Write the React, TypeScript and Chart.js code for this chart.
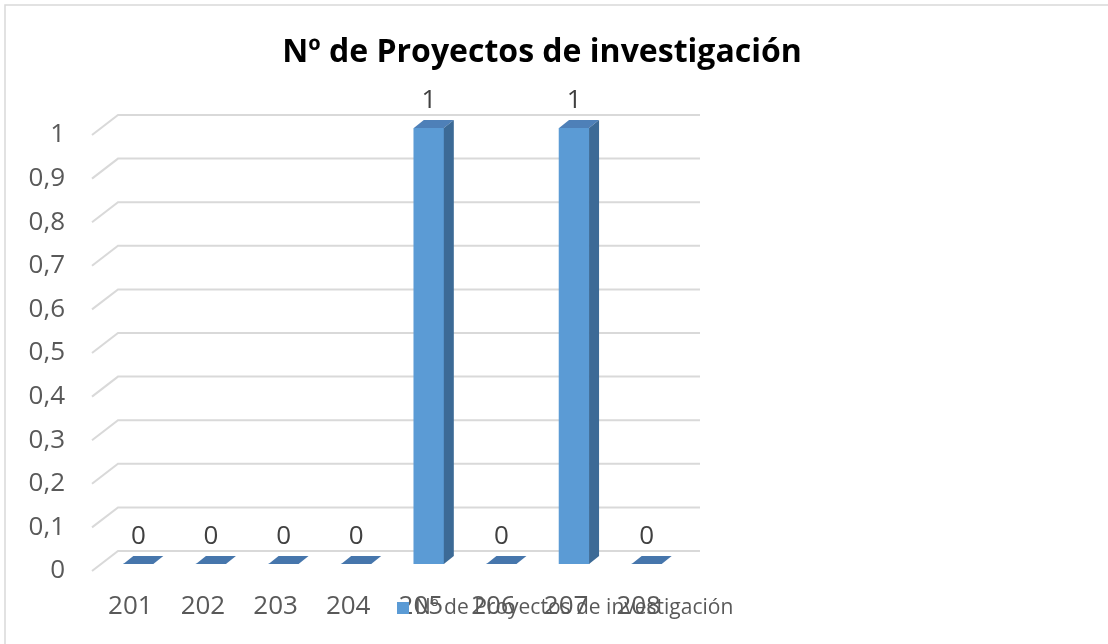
import React, { useEffect, useRef } from 'react';
import { Chart, registerables } from 'chart.js';

Chart.register(...registerables);

const chartTitle = 'Nº de Proyectos de investigación';
const seriesName = 'Nº de Proyectos de investigación';
const categories = ['201', '202', '203', '204', '205', '206', '207', '208'];
const seriesValues = [0, 0, 0, 0, 1, 0, 1, 0];
const yMin = 0;
const yMax = 1;
const yStep = 0.1;

const FONT = '"Open Sans", "Liberation Sans", sans-serif';
const FRONT = '#5B9BD5';
const TOP = '#4E80B8';
const SIDE = '#3C6A96';
const FLAT = '#4676AC';
const GRID = '#d9d9d9';
const DX = 10;
const DY = 8;

const fmt = (v: number) => String(Number(v.toFixed(1))).replace('.', ',');

const decoPlugin = {
  id: 'deco',
  beforeDraw(chart: any) {
    const ctx = chart.ctx as CanvasRenderingContext2D;
    const { left, right } = chart.chartArea;
    const ys = chart.scales.y;
    ctx.save();
    ctx.fillStyle = '#ffffff';
    ctx.fillRect(0, 0, chart.width, chart.height);
    ctx.strokeStyle = GRID;
    ctx.lineWidth = 1.5;
    ctx.strokeRect(5, 5, chart.width + 100, chart.height + 100);
    // 3D gridlines (side wall + back wall)
    ctx.lineWidth = 2;
    ctx.strokeStyle = GRID;
    ys.ticks.forEach((t: any) => {
      const y = ys.getPixelForValue(t.value);
      ctx.beginPath();
      ctx.moveTo(left - 10, y + 7);
      ctx.lineTo(left + 16, y - 13);
      ctx.lineTo(right + 17, y - 13);
      ctx.stroke();
    });
    // title
    ctx.fillStyle = '#000000';
    ctx.font = `bold 32px ${FONT}`;
    ctx.textAlign = 'center';
    ctx.textBaseline = 'middle';
    ctx.fillText(chartTitle, 542, 53);
    ctx.restore();
  },
  afterDatasetsDraw(chart: any) {
    const ctx = chart.ctx as CanvasRenderingContext2D;
    const meta = chart.getDatasetMeta(0);
    const data = chart.data.datasets[0].data as number[];
    ctx.save();
    meta.data.forEach((el: any, i: number) => {
      const { x, y, base, width } = el.getProps(['x', 'y', 'base', 'width'], true);
      const l = x - width / 2;
      const r = x + width / 2;
      if (Math.abs(base - y) < 1) {
        ctx.fillStyle = FLAT;
        ctx.beginPath();
        ctx.moveTo(l, base);
        ctx.lineTo(r, base);
        ctx.lineTo(r + DX, base - DY);
        ctx.lineTo(l + DX, base - DY);
        ctx.closePath();
        ctx.fill();
      } else {
        ctx.fillStyle = TOP;
        ctx.beginPath();
        ctx.moveTo(l, y);
        ctx.lineTo(r, y);
        ctx.lineTo(r + DX, y - DY);
        ctx.lineTo(l + DX, y - DY);
        ctx.closePath();
        ctx.fill();
        ctx.fillStyle = SIDE;
        ctx.beginPath();
        ctx.moveTo(r, y);
        ctx.lineTo(r + DX, y - DY);
        ctx.lineTo(r + DX, base - DY);
        ctx.lineTo(r, base);
        ctx.closePath();
        ctx.fill();
      }
      ctx.fillStyle = '#404040';
      ctx.font = `26px ${FONT}`;
      ctx.textAlign = 'center';
      ctx.textBaseline = 'middle';
      ctx.fillText(fmt(data[i]), x, y - 27);
    });
    ctx.restore();
  },
  afterDraw(chart: any) {
    const ctx = chart.ctx as CanvasRenderingContext2D;
    ctx.save();
    ctx.fillStyle = FRONT;
    ctx.fillRect(397, 602, 12, 12);
    ctx.fillStyle = '#595959';
    ctx.font = `21px ${FONT}`;
    ctx.textAlign = 'left';
    ctx.textBaseline = 'middle';
    ctx.fillText(seriesName, 415, 608);
    ctx.restore();
  },
};

export default function App() {
  const canvasRef = useRef<HTMLCanvasElement | null>(null);

  useEffect(() => {
    if (!canvasRef.current) return;
    const chart = new Chart(canvasRef.current, {
      type: 'bar',
      data: {
        labels: categories,
        datasets: [
          {
            label: seriesName,
            data: seriesValues,
            backgroundColor: FRONT,
            borderWidth: 0,
            barThickness: 30,
          },
        ],
      },
      options: {
        responsive: false,
        animation: false,
        devicePixelRatio: 1,
        layout: { padding: { top: 128, bottom: 0, left: 0, right: 425 } },
        plugins: {
          legend: { display: false },
          title: { display: false },
          tooltip: { enabled: false },
        },
        scales: {
          x: {
            grid: { display: false, drawTicks: false },
            border: { display: false },
            ticks: {
              color: '#595959',
              font: { family: FONT, size: 26 },
              padding: 27,
              labelOffset: -8,
              maxRotation: 0,
              autoSkip: false,
            },
            afterFit: (s: any) => {
              s.height = 80;
            },
          },
          y: {
            min: yMin,
            max: yMax,
            grid: { display: false, drawTicks: false },
            border: { display: false },
            ticks: {
              stepSize: yStep,
              color: '#595959',
              font: { family: FONT, size: 26 },
              padding: 37,
              labelOffset: 7,
              callback: (v: any) => fmt(Number(v)),
            },
            afterFit: (s: any) => {
              s.width = 102;
            },
          },
        },
      },
      plugins: [decoPlugin],
    });
    return () => chart.destroy();
  }, []);

  return (
    <div style={{ position: 'fixed', left: 0, top: 0, width: 1108, height: 644, background: '#fff' }}>
      <canvas ref={canvasRef} width={1108} height={644} style={{ width: 1108, height: 644, display: 'block' }} />
    </div>
  );
}
